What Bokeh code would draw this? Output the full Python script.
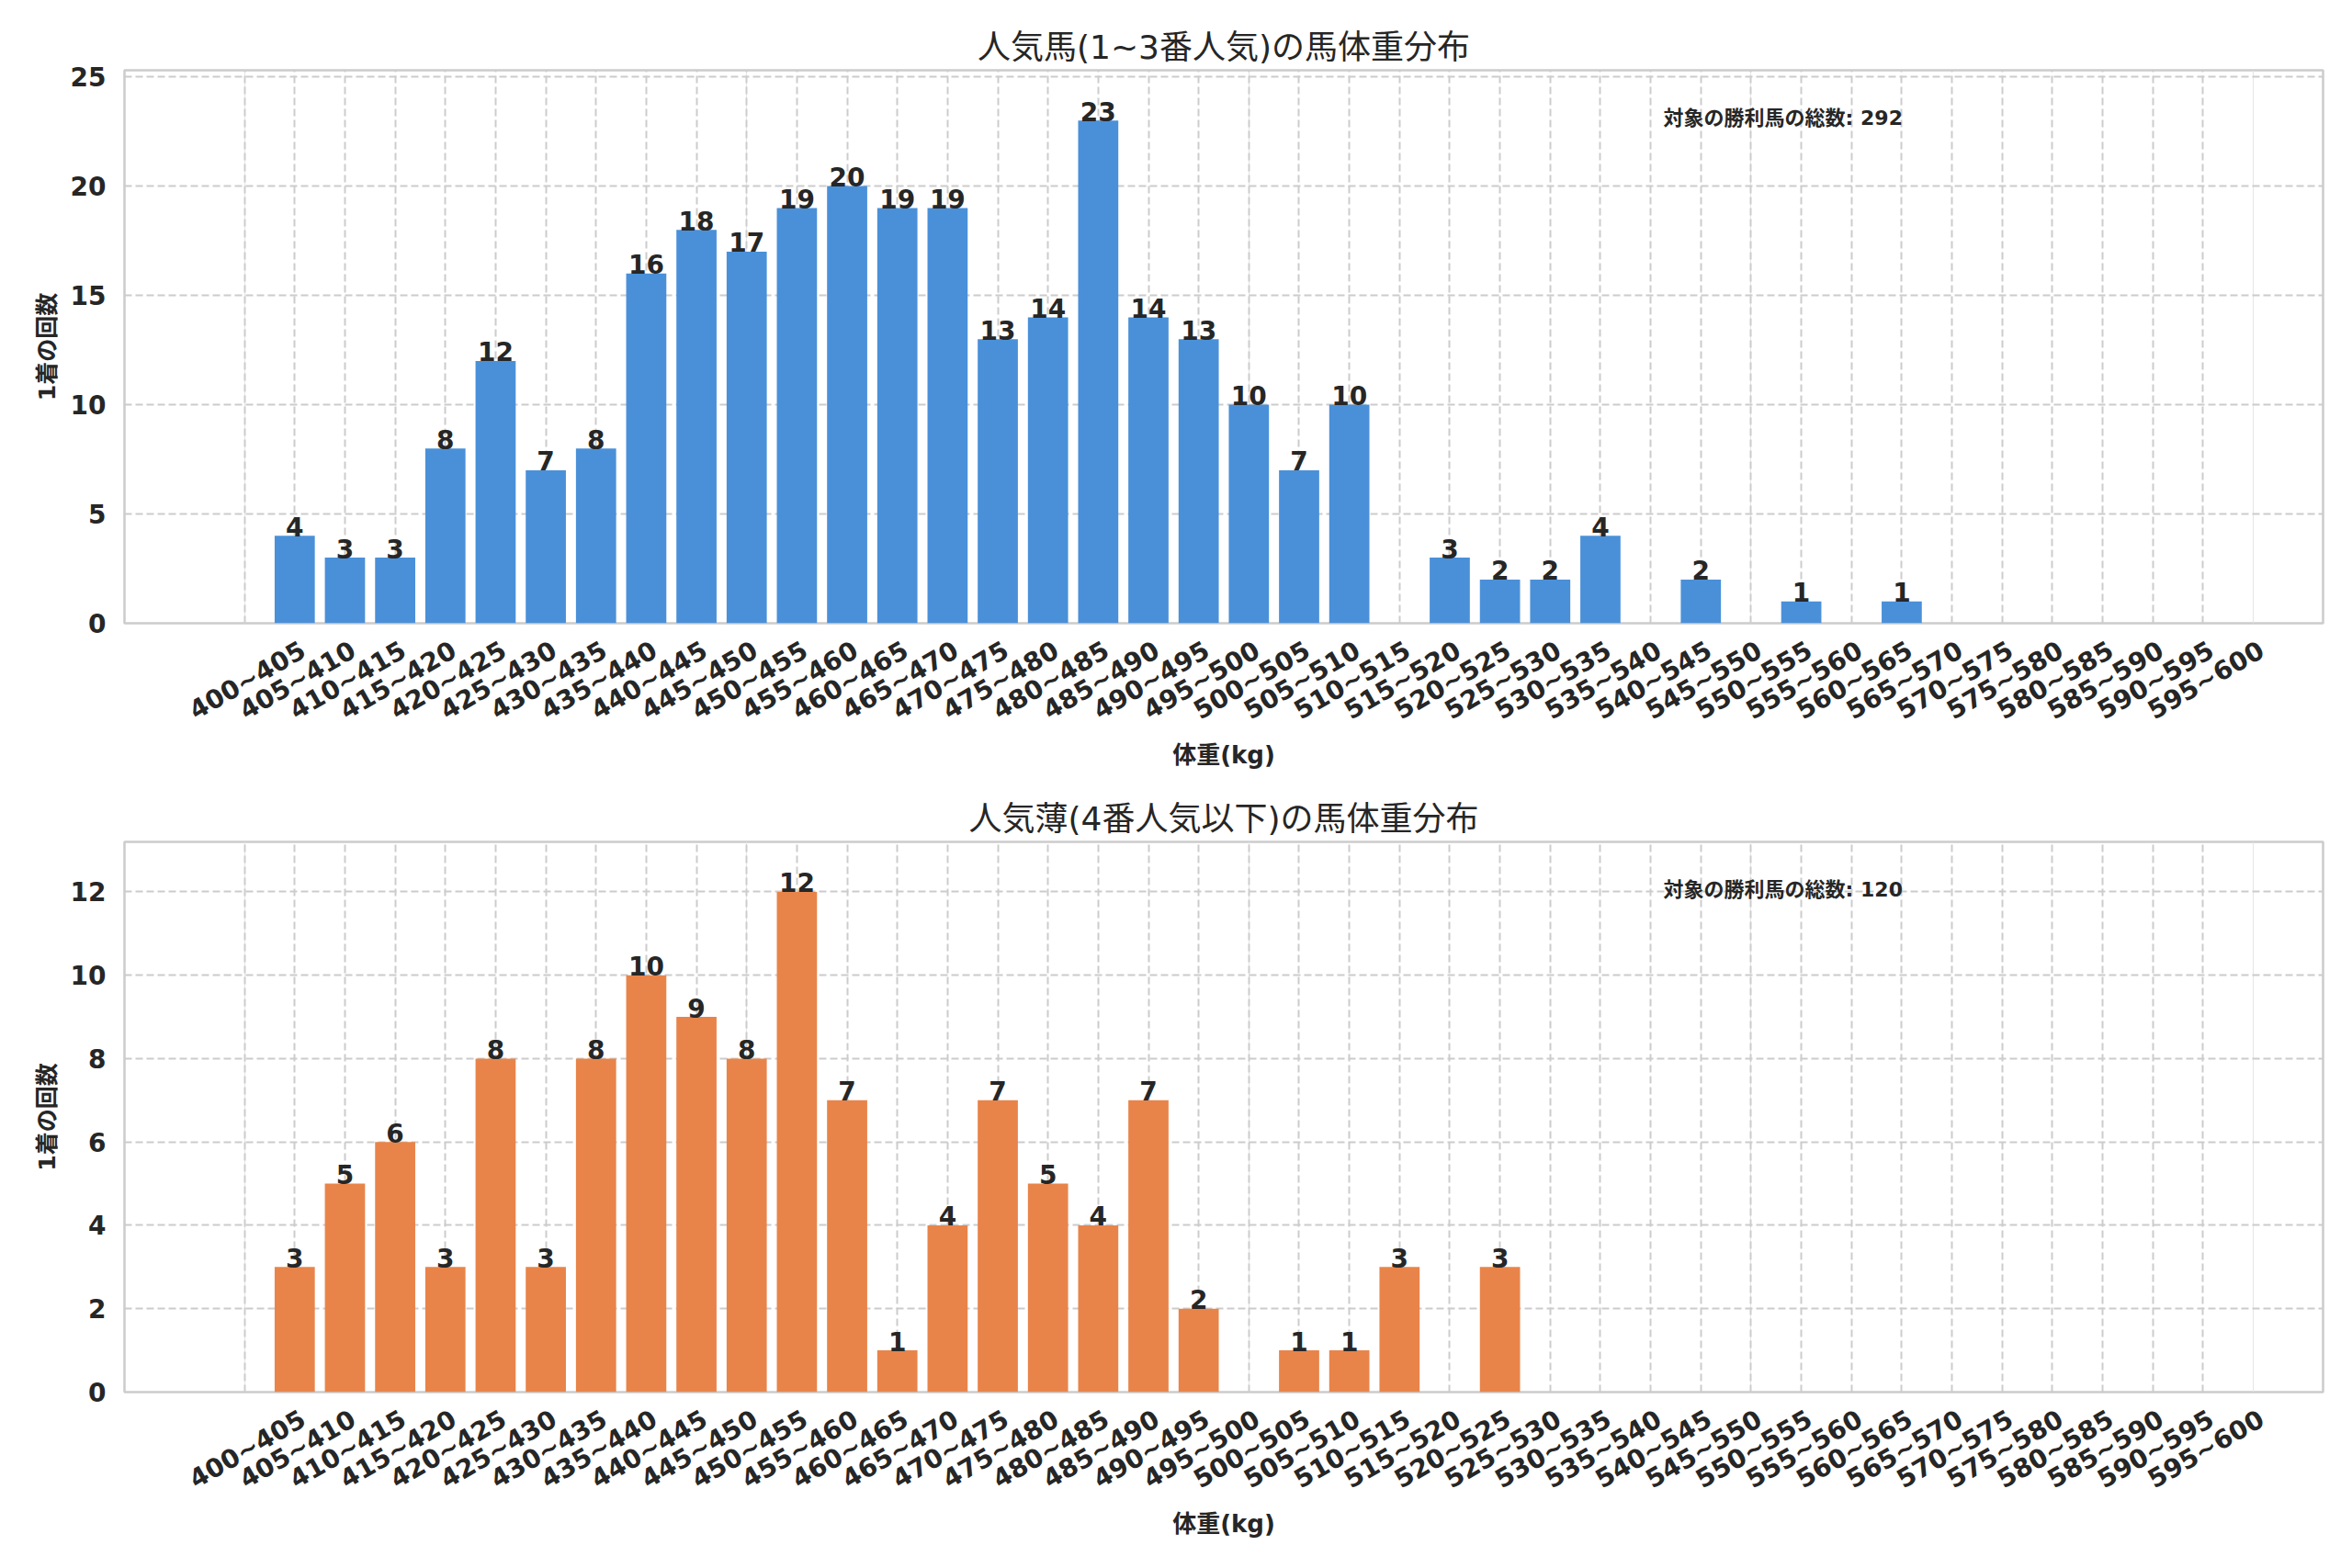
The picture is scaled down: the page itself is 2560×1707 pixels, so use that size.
import math
from bokeh.plotting import figure
from bokeh.models import Range1d, FixedTicker, LinearAxis, Grid, Label, ColumnDataSource
from bokeh.layouts import column
from bokeh.embed import file_html
from bokeh.resources import INLINE
from bokeh.core.properties import value

# ---------------- data ----------------
weight_bins = [
    "400~405", "405~410", "410~415", "415~420", "420~425", "425~430", "430~435", "435~440",
    "440~445", "445~450", "450~455", "455~460", "460~465", "465~470", "470~475", "475~480",
    "480~485", "485~490", "490~495", "495~500", "500~505", "505~510", "510~515", "515~520",
    "520~525", "525~530", "530~535", "535~540", "540~545", "545~550", "550~555", "555~560",
    "560~565", "565~570", "570~575", "575~580", "580~585", "585~590", "590~595", "595~600",
]
popular_counts = [0, 4, 3, 3, 8, 12, 7, 8, 16, 18, 17, 19, 20, 19, 19, 13, 14, 23, 14, 13,
                  10, 7, 10, 0, 3, 2, 2, 4, 0, 2, 0, 1, 0, 1, 0, 0, 0, 0, 0, 0]
longshot_counts = [0, 3, 5, 6, 3, 8, 3, 8, 10, 9, 8, 12, 7, 1, 4, 7, 5, 4, 7, 2,
                   0, 1, 1, 3, 0, 3, 0, 0, 0, 0, 0, 0, 0, 0, 0, 0, 0, 0, 0, 0]
popular_yticks = [0, 5, 10, 15, 20, 25]
longshot_yticks = [0, 2, 4, 6, 8, 10, 12]

popular_title = "人気馬(1~3番人気)の馬体重分布"
longshot_title = "人気薄(4番人気以下)の馬体重分布"
x_label = "体重(kg)"
y_label = "1着の回数"
note_label = "対象の勝利馬の総数"

# ---------------- style ----------------
FONT = "DejaVu Sans, Noto Sans CJK JP"
TXT = "#262626"
GRID = "#cccccc"
W = 2552
LAB_SHIFT = 1.17   # shift so rotated labels are centred on their ticks


def make_panel(title, counts, color, yticks, top_border, frame_h, bottom_border):
    n = len(weight_bins)
    xs = list(range(n))
    x0, x1 = -2.39, 41.39
    ymax = max(counts) * 1.1
    p = figure(width=W, height=top_border + frame_h + bottom_border,
               x_range=Range1d(x0, x1), y_range=Range1d(0, ymax),
               output_backend="svg", toolbar_location=None, x_axis_location=None,
               min_border_left=135, min_border_right=24,
               min_border_top=top_border, min_border_bottom=bottom_border)
    p.background_fill_color = "white"
    p.border_fill_color = "white"
    p.outline_line_color = GRID
    p.outline_line_width = 2.5

    p.title.text = title
    p.title.align = "center"
    p.title.text_font = FONT
    p.title.text_font_style = "normal"
    p.title.text_font_size = "36px"
    p.title.text_color = TXT

    p.add_layout(Grid(dimension=0, ticker=FixedTicker(ticks=xs), grid_line_color=GRID,
                      grid_line_dash="8 4", grid_line_width=2), "center")

    p.yaxis.ticker = FixedTicker(ticks=yticks)
    p.ygrid.grid_line_color = GRID
    p.ygrid.grid_line_dash = "8 4"
    p.ygrid.grid_line_width = 2
    ya = p.yaxis[0]
    ya.axis_line_color = None
    ya.major_tick_line_color = None
    ya.minor_tick_line_color = None
    ya.major_tick_out = 0
    ya.major_label_standoff = 20
    ya.major_label_text_font = FONT
    ya.major_label_text_font_style = "bold"
    ya.major_label_text_font_size = "28px"
    ya.major_label_text_color = TXT
    ya.axis_label = y_label
    ya.axis_label_standoff = 8
    ya.axis_label_text_font = FONT
    ya.axis_label_text_font_style = "bold"
    ya.axis_label_text_font_size = "25px"
    ya.axis_label_text_color = TXT

    p.extra_x_ranges = {"lab": Range1d(x0 - LAB_SHIFT, x1 - LAB_SHIFT)}
    xa = LinearAxis(x_range_name="lab", ticker=FixedTicker(ticks=xs),
                    major_label_overrides={i: lab for i, lab in enumerate(weight_bins)},
                    major_label_orientation=math.pi / 6)
    xa.axis_line_color = None
    xa.major_tick_line_color = None
    xa.minor_tick_line_color = None
    xa.major_tick_out = 0
    xa.major_label_standoff = 27
    xa.major_label_text_font = FONT
    xa.major_label_text_font_style = "bold"
    xa.major_label_text_font_size = "28px"
    xa.major_label_text_color = TXT
    xa.axis_label = x_label
    xa.axis_label_standoff = 0
    xa.axis_label_text_font = FONT
    xa.axis_label_text_font_style = "bold"
    xa.axis_label_text_font_size = "26px"
    xa.axis_label_text_color = TXT
    p.add_layout(xa, "below")

    src = ColumnDataSource(dict(x=xs, top=counts))
    p.vbar(x="x", top="top", width=0.8, source=src, fill_color=color,
           line_color=None)

    lx = [x for x, c in zip(xs, counts) if c > 0]
    ly = [c for c in counts if c > 0]
    lsrc = ColumnDataSource(dict(x=lx, y=ly, t=[str(c) for c in ly]))
    p.text(x="x", y="y", text="t", source=lsrc, text_align="center",
           text_baseline="alphabetic", y_offset=-10,
           text_font=value(FONT), text_font_style="bold",
           text_font_size="28px", text_color=TXT)

    p.add_layout(Label(x=x0 + 0.7 * (x1 - x0), y=0.913 * ymax,
                       text=f"{note_label}: {sum(counts)}",
                       text_align="left", text_baseline="middle",
                       text_font=FONT, text_font_style="bold",
                       text_font_size="22px", text_color=TXT))
    return p


p1 = make_panel(popular_title, popular_counts, "#4a90d9", popular_yticks, 76, 602, 172)
p2 = make_panel(longshot_title, longshot_counts, "#e8844a", longshot_yticks, 66, 599, 172)

layout = column(p1, p2, spacing=0)
open("out.html", "w").write(file_html(layout, INLINE))
